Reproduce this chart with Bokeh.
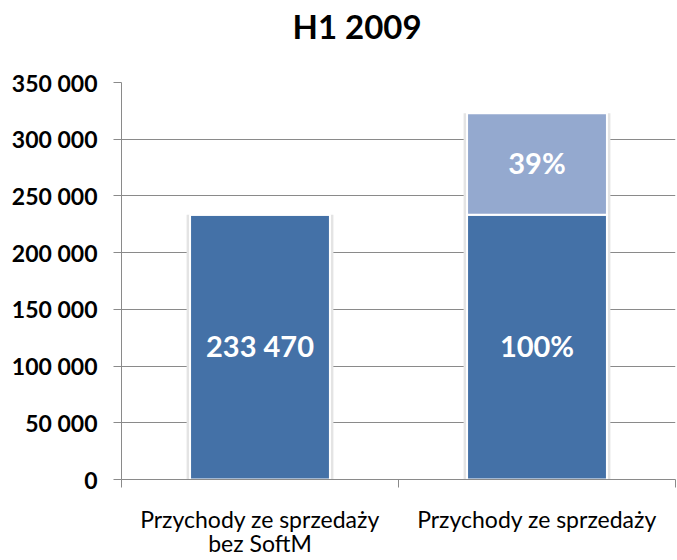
from bokeh.plotting import figure
from bokeh.models import ColumnDataSource, FixedTicker, Range1d, Title
from bokeh.core.properties import value
from bokeh.embed import file_html
from bokeh.resources import INLINE

# ---- data ----
categories = ["Przychody ze sprzedaży\nbez SoftM", "Przychody ze sprzedaży"]
base_values = [233470, 233470]
softm_values = [0, 89500]
base_pct_label = "100%"
softm_pct_label = "39%"
y_ticks = [0, 50000, 100000, 150000, 200000, 250000, 300000, 350000]
title_text = "H1 2009"

DARK = "#4471A7"
LIGHT = "#94A9CF"
GRID = "#8A8A8A"

xs = [i + 0.5 for i in range(len(categories))]
tops = [b + s for b, s in zip(base_values, softm_values)]
base_labels = [f"{base_values[0]:,}".replace(",", " "), base_pct_label]
top_labels = ["", softm_pct_label]

src = ColumnDataSource(dict(
    x=xs, base=base_values, top=tops,
    base_mid=[b / 2 for b in base_values],
    top_mid=[b + s / 2 for b, s in zip(base_values, softm_values)],
    base_label=base_labels, top_label=top_labels,
))

p = figure(width=677, height=560, output_backend="svg", toolbar_location=None,
           x_range=Range1d(0, 2.0), y_range=Range1d(0, 350000),
           min_border_left=121, min_border_right=2,
           min_border_top=82, min_border_bottom=81)
p.outline_line_color = None
p.background_fill_color = "white"
p.border_fill_color = "white"

# spacer between the title and the plot area
spacer = Title(text=" ", text_font_size="10px", standoff=24)
p.add_layout(spacer, "above")

p.title.text = title_text
p.title.align = "left"
p.title.offset = 171
p.title.vertical_align = "bottom"
p.title.standoff = 0
p.title.text_line_height = 1.0
p.title.text_font = "Lato"
p.title.text_font_size = "33px"
p.title.text_font_style = "bold"
p.title.text_color = "black"

# shadow
p.vbar(x="x", top="top", bottom=0, width=0.53, source=src,
       fill_color="#E4E4E4", line_color=None)
# bars
p.vbar(x="x", top="base", bottom=0, width=0.505, source=src,
       fill_color=DARK, line_color="white", line_width=2)
p.vbar(x="x", top="top", bottom="base", width=0.505, source=src,
       fill_color=LIGHT, line_color="white", line_width=2)

p.text(x="x", y="base_mid", text="base_label", source=src,
       text_font=value("Lato"), text_font_size="29px", text_font_style="bold",
       text_color="white", text_align="center", text_baseline="middle",
       y_offset=-2)
p.text(x="x", y="top_mid", text="top_label", source=src,
       text_font=value("Lato"), text_font_size="29px", text_font_style="bold",
       text_color="white", text_align="center", text_baseline="middle",
       y_offset=-1)

# grid
p.xgrid.visible = False
p.ygrid.grid_line_color = GRID
p.ygrid.grid_line_width = 1

# y axis
p.yaxis.ticker = FixedTicker(ticks=y_ticks, minor_ticks=[])
p.yaxis.major_label_overrides = {t: f"{t:,}".replace(",", " ") for t in y_ticks}
p.yaxis.axis_line_color = GRID
p.yaxis.major_tick_line_color = GRID
p.yaxis.major_tick_out = 8
p.yaxis.major_tick_in = 0
p.yaxis.minor_tick_line_color = None
p.yaxis.major_label_standoff = 16
p.yaxis.major_label_text_font = "Lato"
p.yaxis.major_label_text_font_size = "23px"
p.yaxis.major_label_text_font_style = "bold"
p.yaxis.major_label_text_color = "black"

# x axis
p.xaxis.ticker = FixedTicker(ticks=xs, minor_ticks=[0, 1, 2])
p.xaxis.major_label_overrides = {x: c for x, c in zip(xs, categories)}
p.xaxis.axis_line_color = GRID
p.xaxis.major_tick_line_color = None
p.xaxis.major_tick_out = 0
p.xaxis.major_tick_in = 0
p.xaxis.minor_tick_line_color = GRID
p.xaxis.minor_tick_out = 8
p.xaxis.minor_tick_in = 0
p.xaxis.axis_label_standoff = 0
p.xaxis.major_label_standoff = 17
p.xaxis.major_label_text_font = "Lato"
p.xaxis.major_label_text_font_size = "23px"
p.xaxis.major_label_text_line_height = 0.87
p.xaxis.major_label_text_color = "black"

open("out.html", "w").write(file_html(p, INLINE))
